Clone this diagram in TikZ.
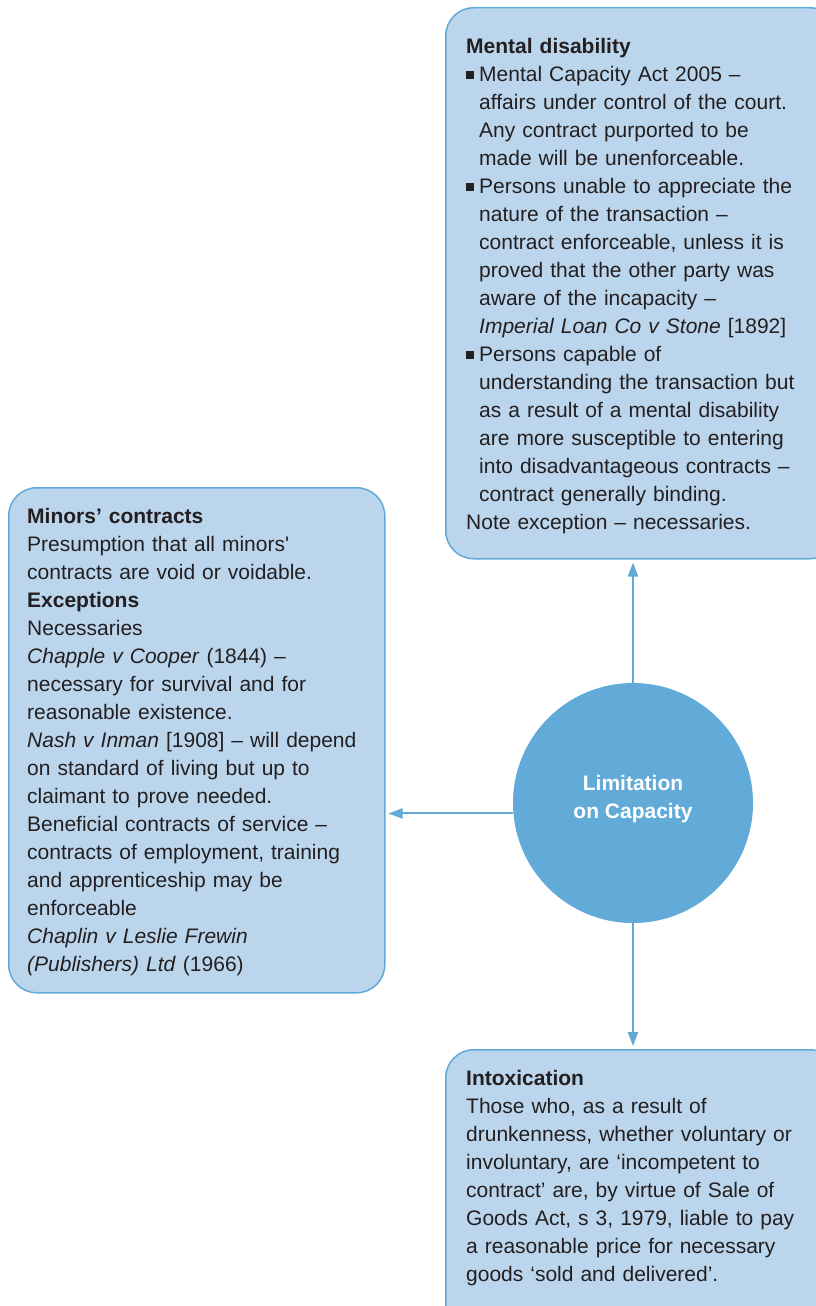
\documentclass[tikz,border=0pt]{standalone}
\usepackage{fontspec}
\setmainfont{Liberation Sans}
\newfontfamily\plainquote{Liberation Sans}
\usetikzlibrary{arrows.meta,positioning}
\definecolor{boxfill}{HTML}{BBD6EC}
\definecolor{boxline}{HTML}{62A9D8}
\definecolor{capfill}{HTML}{62AAD8}
\definecolor{ink}{HTML}{231F20}
\newcommand{\sqbul}{\rule[2.5pt]{8pt}{8pt}\hspace{5pt}}
\newcommand{\hangpar}{\hangindent=13pt\hangafter=1 }

\begin{document}
\begin{tikzpicture}[x=1pt,y=-1pt,
    panel/.style={draw=boxline,line width=1.5pt,fill=boxfill,rounded corners=28pt,anchor=north west,inner sep=0pt},
    body/.style={text=ink,inner sep=0pt,align=left,font=\fontsize{21}{28}\selectfont},
    link/.style={draw=boxline,line width=2pt,-{Triangle[length=14pt,width=10pt]},shorten >=3pt}]
    \clip (0,0) rectangle (816,1306);
    \fill[white] (0,0) rectangle (816,1306);
    % the three panels and the hub
    \node[panel,minimum width=392pt,minimum height=551pt] (mental) at (445,7) {};
    \node[panel,minimum width=376pt,minimum height=505pt] (minors) at (8,487) {};
    \node[panel,minimum width=392pt,minimum height=290pt] (intox) at (445,1049) {};
    \node[circle,fill=capfill,minimum size=240pt,inner sep=0pt] (cap) at (633,803) {};
    \node[text=white,align=center,font=\bfseries\fontsize{21}{28}\selectfont] (caplbl) at ([yshift=4pt]cap.center) {Limitation\\on Capacity};
    % panel texts
    \node[body,text width=350pt,below right=31pt and 21pt of mental.north west] (mentaltxt) {%
        \textbf{Mental disability}\par
        \hangpar\sqbul Mental Capacity Act 2005 –\newline affairs under control of the court.\newline Any contract purported to be\newline made will be unenforceable.\par
        \hangpar\sqbul Persons unable to appreciate the\newline nature of the transaction –\newline contract enforceable, unless it is\newline proved that the other party was\newline aware of the incapacity –\newline \textit{Imperial Loan Co v Stone} [1892]\par
        \hangpar\sqbul Persons capable of\newline understanding the transaction but\newline as a result of a mental disability\newline are more susceptible to entering\newline into disadvantageous contracts –\newline contract generally binding.\par
        Note exception – necessaries.};
    \node[body,text width=350pt,below right=21pt and 19pt of minors.north west] (minorstxt) {%
        \textbf{Minors’ contracts}\\
        Presumption that all minors{\plainquote'}\\contracts are void or voidable.\\
        \textbf{Exceptions}\\
        Necessaries\\
        \textit{Chapple v Cooper} (1844) –\\necessary for survival and for\\reasonable existence.\\
        \textit{Nash v Inman} [1908] – will depend\\on standard of living but up to\\claimant to prove needed.\\
        Beneficial contracts of service –\\contracts of employment, training\\and apprenticeship may be\\enforceable\\
        \textit{Chaplin v Leslie Frewin}\\\textit{(Publishers) Ltd} (1966)};
    \node[body,text width=350pt,below right=21pt and 21pt of intox.north west] (intoxtxt) {%
        \textbf{Intoxication}\\
        Those who, as a result of\\drunkenness, whether voluntary or\\involuntary, are ‘incompetent to\\contract’ are, by virtue of Sale of\\Goods Act, s 3, 1979, liable to pay\\a reasonable price for necessary\\goods ‘sold and delivered’.};
    % connectors
    \draw[link] (cap.north) -- (cap.north |- mental.south);
    \draw[link] (cap.185) -- (cap.185 -| minors.east);
    \draw[link] (cap.south) -- (cap.south |- intox.north);
\end{tikzpicture}
\end{document}
